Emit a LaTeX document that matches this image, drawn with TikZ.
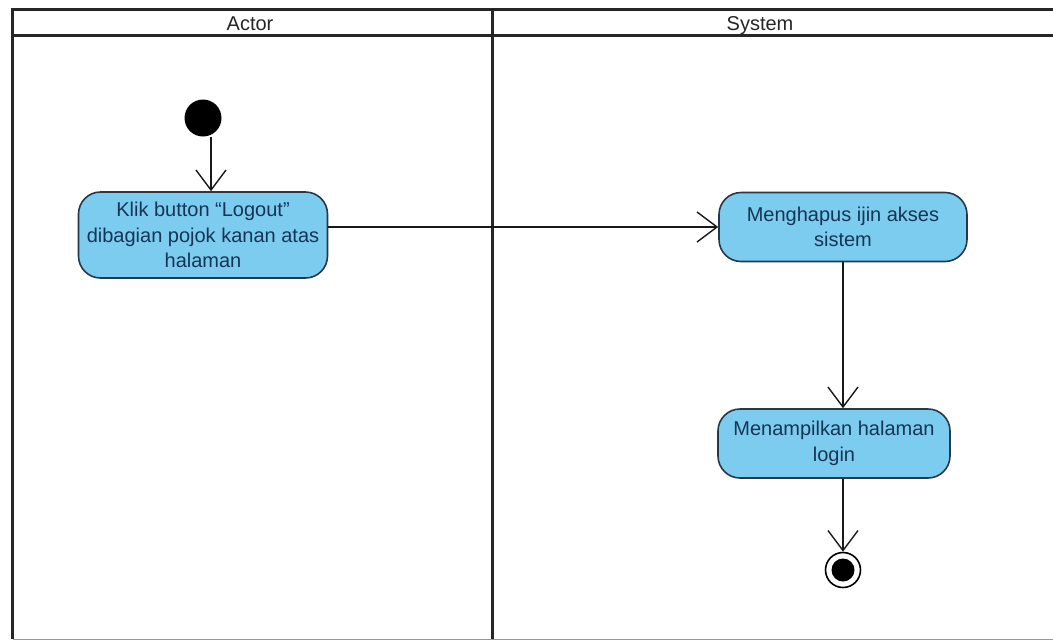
\documentclass[tikz,border=0pt]{standalone}
\usepackage{fontspec}
\setmainfont{Liberation Sans}
\usetikzlibrary{arrows.meta}

\definecolor{actfill}{RGB}{124,204,240}
\definecolor{actline}{RGB}{40,56,72}
\definecolor{acttext}{RGB}{22,52,86}
\definecolor{lanegray}{RGB}{150,150,150}

\tikzset{
  lane/.style={line width=3pt, draw=black!85},
  actbox/.style={draw=actline, fill=actfill, line width=1.6pt,
    rounded corners=22pt, inner sep=0pt, align=center,
    text=acttext, font=\fontsize{20}{25.5}\selectfont},
  lanehead/.style={font=\fontsize{20}{24}\selectfont, text=black!85,
    anchor=base, inner sep=0pt},
  flow/.style={line width=1.4pt, draw=black!90,
    -{Straight Barb[length=20pt,width=30pt,line width=1.4pt]}},
  startdot/.style={circle, fill=black, minimum size=37pt, inner sep=0pt},
  endring/.style={circle, draw=black, line width=1.6pt, fill=white,
    minimum size=35pt, inner sep=0pt},
  enddot/.style={circle, fill=black, minimum size=23pt, inner sep=0pt}
}

\begin{document}
\begin{tikzpicture}[x=1pt,y=-1pt]
  % canvas
  \fill[white] (0,0) rectangle (1053,641);
  \useasboundingbox (0,0) rectangle (1053,641);

  % swimlane frame
  \draw[lanegray, line width=1pt] (12.5,639) -- (1053,639);
  \draw[lane] (12.5,9.5) -- (1053,9.5);
  \draw[lane] (12.5,35) -- (1053,35);
  \draw[lane] (12.5,8) -- (12.5,639);
  \draw[lane] (492.5,8) -- (492.5,639);

  % lane titles
  \node[lanehead] (hActor) at (250,30.5) {Actor};
  \node[lanehead] (hSystem) at (760,30.5) {System};

  % initial node
  \node[startdot] (start) at (203,118) {};

  % actions
  \node[actbox, minimum width=249pt, minimum height=86pt] (a1) at (203,235)
    {Klik button “Logout”\\dibagian pojok kanan atas\\halaman};
  \node[actbox, minimum width=248pt, minimum height=69pt] (a2) at (843,227)
    {Menghapus ijin akses\\sistem};
  \node[actbox, minimum width=232pt, minimum height=69pt] (a3) at (834,443.5)
    {Menampilkan halaman\\login};

  % final node
  \node[endring] (final) at (843,570) {};
  \node[enddot] (finaldot) at (final) {};

  % control flows
  \draw[flow] ([xshift=8pt]start.south) -- ([xshift=8pt]start.south |- a1.north);
  \draw[flow] (a1.east |- a2.west) -- (a2.west);
  \draw[flow] (a2.south) -- (a2.south |- a3.north);
  \draw[flow] (a3.south -| final.north) -- (final.north);
\end{tikzpicture}
\end{document}
